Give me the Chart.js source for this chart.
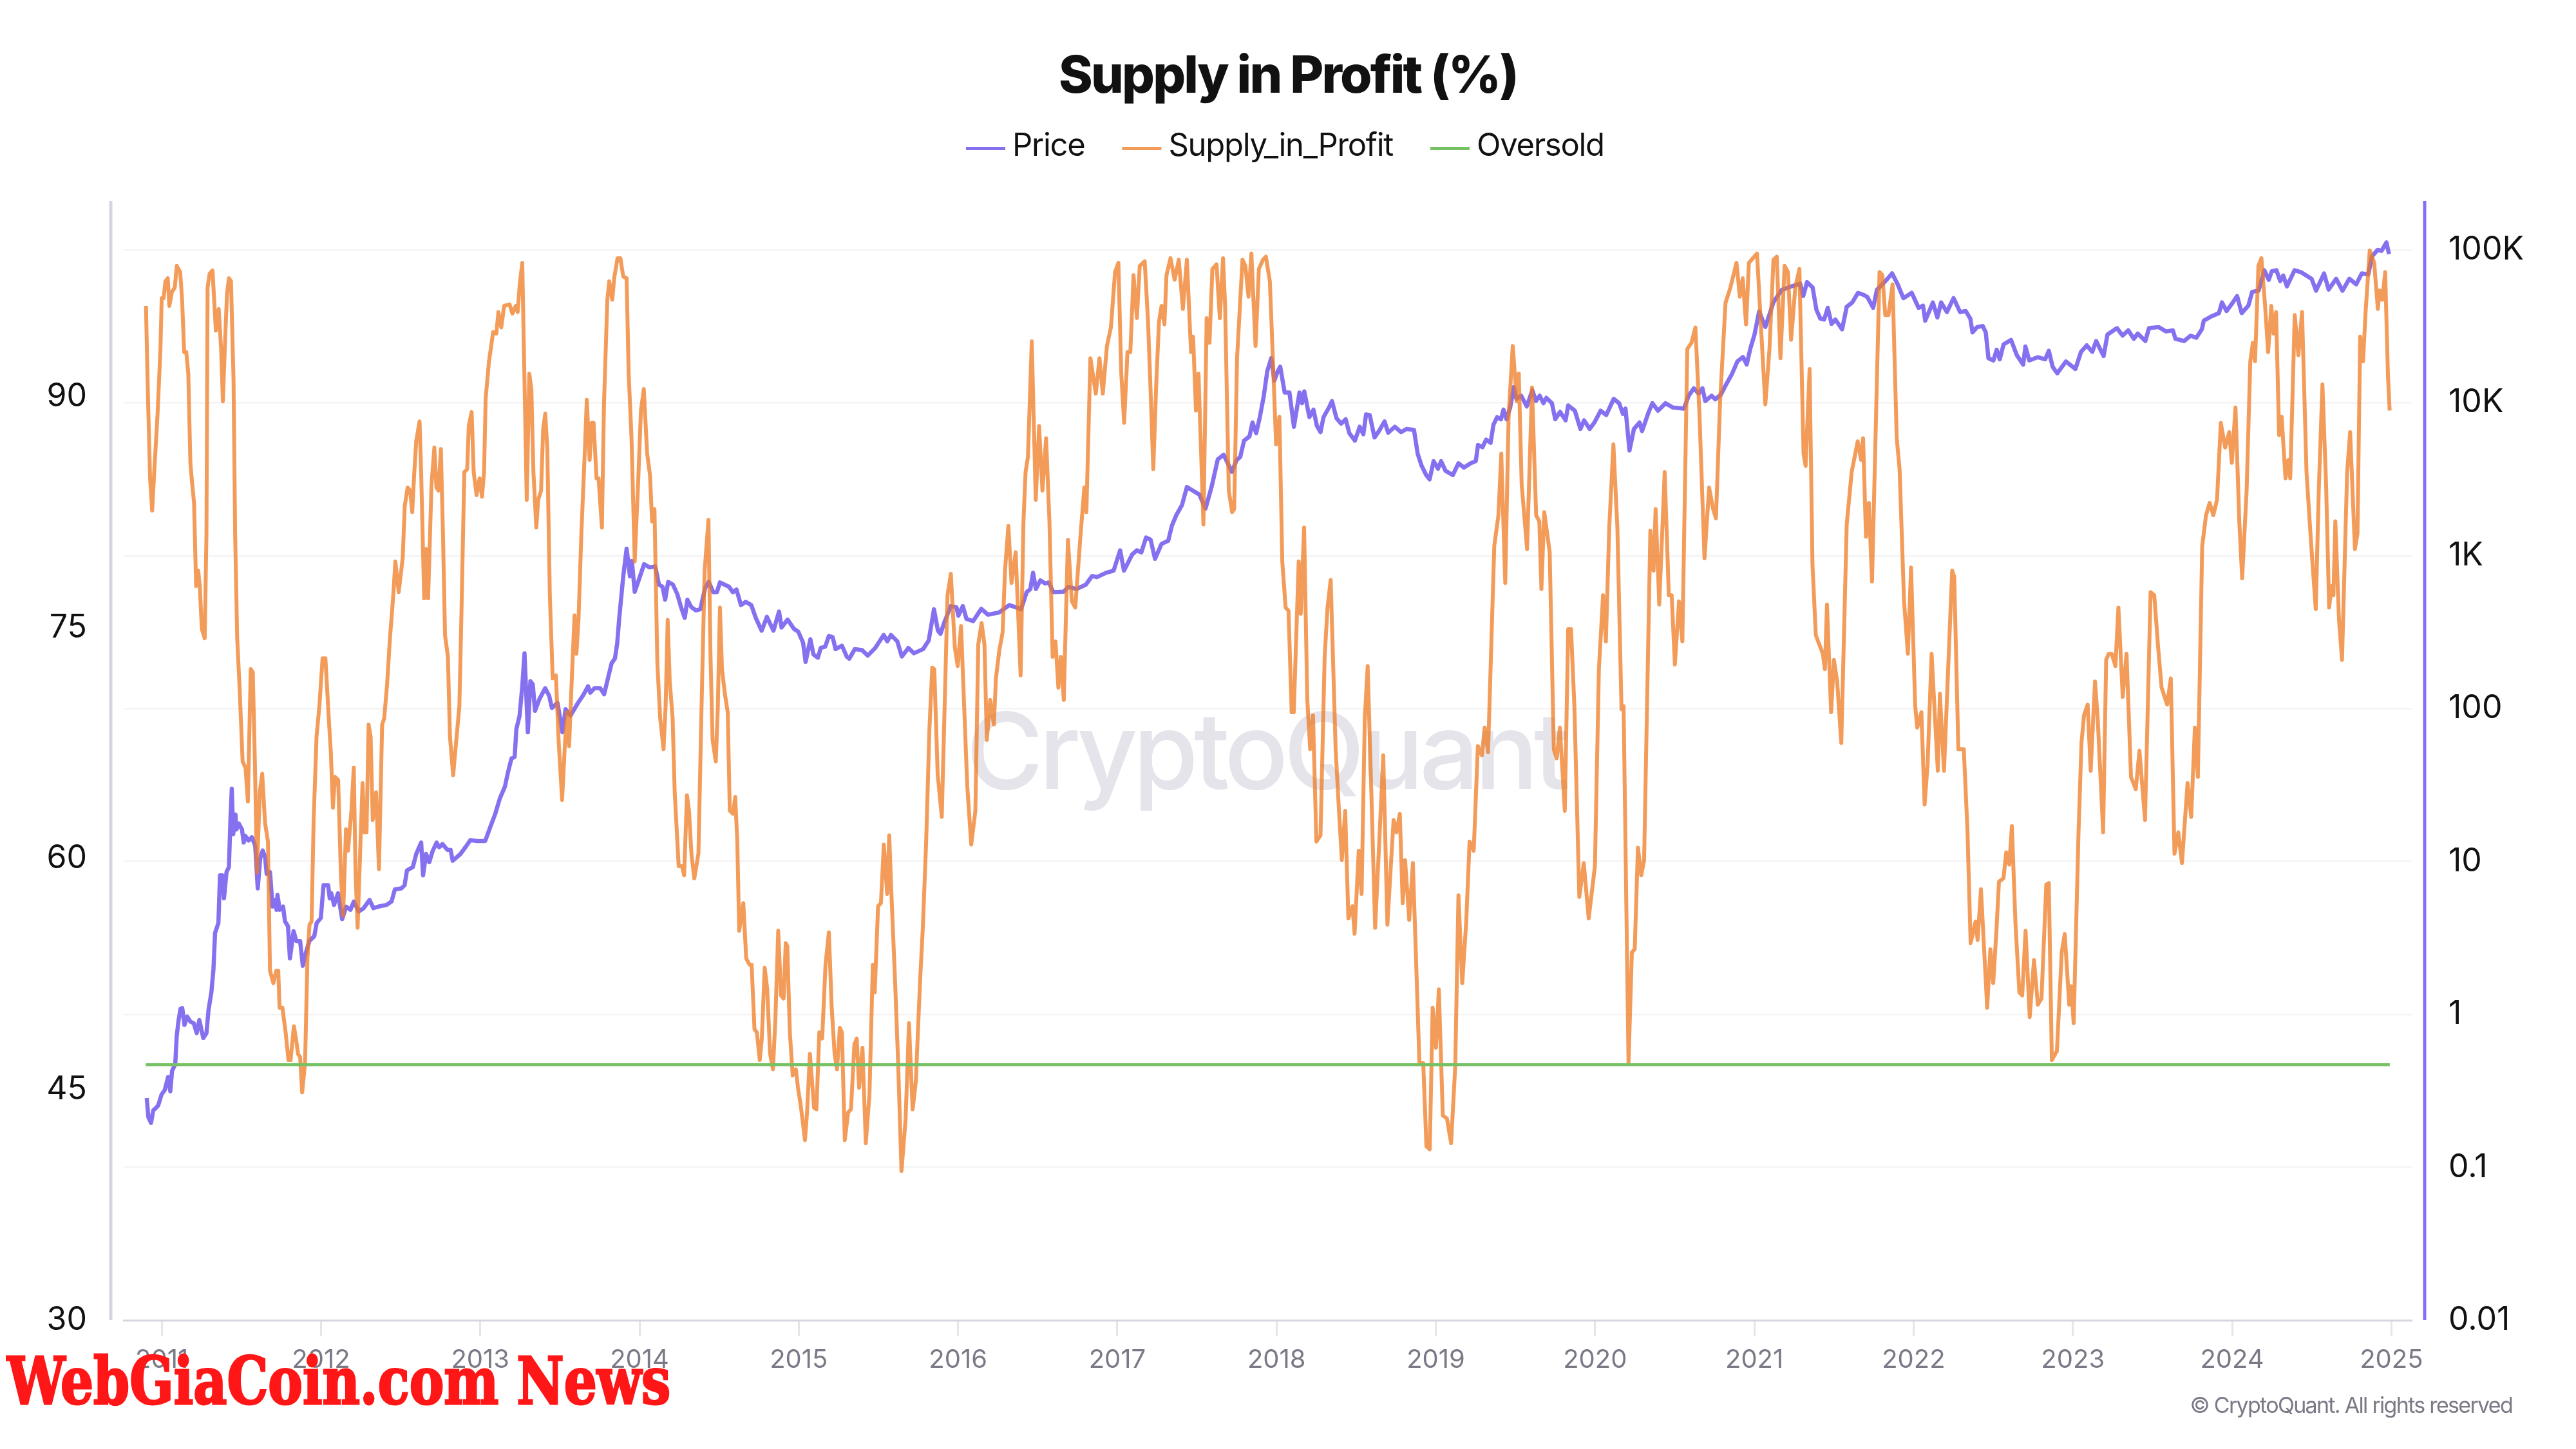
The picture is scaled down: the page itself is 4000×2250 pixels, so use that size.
<!DOCTYPE html>
<html>
<head>
<meta charset="utf-8">
<title>Supply in Profit (%)</title>
<script src="https://cdn.jsdelivr.net/npm/chart.js@4/dist/chart.umd.min.js"></script>
<style>
  html, body { margin: 0; padding: 0; background: #fff; }
  canvas { display: block; }
</style>
</head>
<body>
<canvas id="chart" width="4000" height="2250"></canvas>
<script>
// tick labels
const yearTicks = [2011, 2012, 2013, 2014, 2015, 2016, 2017, 2018, 2019, 2020, 2021, 2022, 2023, 2024, 2025];
const percentTicks = [30, 45, 60, 75, 90];
const priceTicks = [0.01, 0.1, 1, 10, 100, 1000, 10000, 100000];
const priceTickLabels = ['0.01', '0.1', '1', '10', '100', '1K', '10K', '100K'];

// series: [decimal year, value]
const oversoldLine = [[2010.90, 46.6], [2024.99, 46.6]];

const pricePoints = [
  [2010.906,0.284],[2010.916,0.213],[2010.933,0.195],[2010.947,0.236],[2010.958,0.241],[2010.978,0.254],[2010.999,0.299],
  [2011.019,0.320],[2011.040,0.390],[2011.054,0.314],[2011.065,0.427],[2011.085,0.471],[2011.094,0.718],[2011.106,0.918],[2011.118,1.09],[2011.129,1.10],[2011.143,0.853],[2011.160,0.966],[2011.180,0.897],[2011.201,0.875],[2011.220,0.754],[2011.236,0.918],[2011.261,0.700],[2011.281,0.754],[2011.294,1.07],[2011.312,1.40],[2011.325,1.98],[2011.335,3.41],[2011.356,3.96],[2011.366,8.12],[2011.380,8.12],[2011.391,5.74],[2011.407,8.53],[2011.422,9.19],[2011.432,19.3],[2011.440,29.9],[2011.449,15.1],[2011.463,20.3],[2011.469,16.2],[2011.484,17.7],[2011.504,16.2],[2011.515,13.3],[2011.525,14.7],[2011.545,13.7],[2011.566,14.4],[2011.587,12.7],[2011.603,6.67],[2011.618,10.4],[2011.634,11.8],[2011.649,10.7],[2011.659,8.32],[2011.680,8.53],[2011.696,5.07],[2011.711,5.6],[2011.721,4.83],[2011.727,6.04],[2011.741,4.83],[2011.762,5.07],[2011.774,4.06],[2011.793,3.77],[2011.805,2.32],[2011.828,3.50],[2011.845,3.02],[2011.869,3.02],[2011.886,2.08],[2011.906,2.54],[2011.927,3.02],[2011.958,3.25],[2011.973,3.96],[2011.999,4.27],
  [2012.016,7.0],[2012.045,7.0],[2012.055,5.74],[2012.065,6.19],[2012.082,5.20],[2012.107,6.19],[2012.133,4.2],[2012.158,5.07],[2012.185,4.83],[2012.206,5.47],[2012.237,4.71],[2012.268,4.95],[2012.305,5.6],[2012.329,4.95],[2012.360,5.07],[2012.412,5.2],[2012.443,5.47],[2012.464,6.57],[2012.505,6.67],[2012.525,7.0],[2012.540,8.75],[2012.577,9.19],[2012.598,11.2],[2012.629,13.3],[2012.641,8.12],[2012.660,11.2],[2012.680,9.9],[2012.701,11.7],[2012.726,13.3],[2012.742,12.4],[2012.763,13.0],[2012.794,11.9],[2012.814,11.9],[2012.827,10.1],[2012.876,11.2],[2012.907,12.4],[2012.938,13.8],[2012.979,13.6],
  [2013.031,13.6],[2013.062,16.7],[2013.093,20.3],[2013.124,26.0],[2013.155,30.9],[2013.175,38.6],[2013.196,47.1],[2013.216,48.3],[2013.227,73.6],[2013.247,89.7],[2013.264,140],[2013.278,230],[2013.299,70],[2013.315,151],[2013.330,144],[2013.344,96.6],[2013.371,115],[2013.408,136],[2013.433,121],[2013.450,101],[2013.485,109],[2013.516,70],[2013.536,99],[2013.567,90],[2013.609,107],[2013.650,124],[2013.677,140],[2013.691,127],[2013.718,136],[2013.753,136],[2013.778,124],[2013.805,163],[2013.825,198],[2013.846,213],[2013.860,267],[2013.872,383],[2013.898,733],[2013.919,1112],[2013.940,733],[2013.952,923],[2013.970,581],
  [2014.029,879],[2014.064,838],[2014.099,851],[2014.122,647],[2014.145,625],[2014.161,515],[2014.180,674],[2014.210,647],[2014.238,558],[2014.261,460],[2014.284,392],[2014.301,515],[2014.326,460],[2014.354,439],[2014.382,446],[2014.412,615],[2014.435,674],[2014.463,577],[2014.486,577],[2014.505,668],[2014.563,625],[2014.586,577],[2014.609,600],[2014.637,475],[2014.667,499],[2014.702,475],[2014.730,392],[2014.767,323],[2014.800,398],[2014.841,323],[2014.876,431],[2014.892,339],[2014.930,382],[2014.969,333],[2014.997,318],
  [2015.027,270],[2015.043,202],[2015.073,284],[2015.092,226],[2015.120,215],[2015.138,249],[2015.166,254],[2015.189,298],[2015.213,293],[2015.231,245],[2015.271,258],[2015.301,219],[2015.317,212],[2015.352,245],[2015.398,241],[2015.433,222],[2015.480,249],[2015.533,303],[2015.556,275],[2015.579,303],[2015.619,275],[2015.647,219],[2015.688,249],[2015.723,230],[2015.781,245],[2015.816,279],[2015.849,446],[2015.874,323],[2015.890,308],[2015.914,367],[2015.955,468],[2015.990,460],
  [2016.002,405],[2016.030,468],[2016.053,386],[2016.095,373],[2016.146,449],[2016.188,411],[2016.257,425],[2016.322,475],[2016.362,460],[2016.396,446],[2016.431,577],[2016.454,605],[2016.471,773],[2016.489,605],[2016.517,690],[2016.547,658],[2016.570,668],[2016.598,577],[2016.663,581],[2016.693,625],[2016.744,605],[2016.803,647],[2016.842,736],[2016.872,724],[2016.930,773],[2016.977,798],
  [2017.018,1084],[2017.042,798],[2017.093,1016],[2017.123,1084],[2017.151,1050],[2017.181,1315],[2017.209,1274],[2017.237,953],[2017.278,1194],[2017.320,1254],[2017.343,1570],[2017.371,1848],[2017.406,2138],[2017.437,2812],[2017.515,2512],[2017.554,2032],[2017.592,2812],[2017.631,4266],[2017.668,4570],[2017.703,3828],[2017.719,3532],[2017.749,4217],[2017.772,4426],[2017.796,5649],[2017.830,6026],[2017.849,7431],[2017.872,6324],[2017.895,8054],[2017.919,10940],[2017.942,16140],[2017.967,19590],[2017.986,13950],
  [2018.005,15880],[2018.023,17220],[2018.051,11670],[2018.081,11670],[2018.109,6966],[2018.144,11670],[2018.160,9935],[2018.174,11870],[2018.206,8054],[2018.232,9016],[2018.253,7079],[2018.276,6427],[2018.295,8054],[2018.329,9311],[2018.348,10260],[2018.376,7932],[2018.406,7309],[2018.434,7798],[2018.457,6324],[2018.492,5649],[2018.522,6966],[2018.545,6223],[2018.562,8395],[2018.585,8318],[2018.615,5929],[2018.643,6531],[2018.678,7551],[2018.701,6371],[2018.743,6966],[2018.782,6427],[2018.817,6745],[2018.863,6637],[2018.886,4645],[2018.910,3890],[2018.940,3365],[2018.961,3155],[2018.986,4150],
  [2019.014,3707],[2019.033,4150],[2019.061,3589],[2019.107,3365],[2019.142,4018],[2019.177,3767],[2019.218,4018],[2019.251,4150],[2019.265,5296],[2019.293,5120],[2019.316,5741],[2019.344,5468],[2019.362,7194],[2019.385,8054],[2019.409,7798],[2019.425,9016],[2019.444,7798],[2019.467,9311],[2019.490,12660],[2019.506,10600],[2019.536,11120],[2019.571,9467],[2019.606,12060],[2019.629,10260],[2019.652,11120],[2019.676,9935],[2019.694,10770],[2019.729,9935],[2019.750,7798],[2019.780,8730],[2019.815,7674],[2019.831,9616],[2019.873,8872],[2019.908,6745],[2019.931,7674],[2019.966,6745],[2019.996,7431],
  [2020.035,8872],[2020.070,8318],[2020.117,10600],[2020.151,9935],[2020.175,8451],[2020.191,9162],[2020.216,4875],[2020.244,6745],[2020.279,7431],[2020.295,6531],[2020.337,8730],[2020.360,9935],[2020.395,8872],[2020.442,9935],[2020.488,9311],[2020.558,9162],[2020.588,11120],[2020.620,12450],[2020.650,11490],[2020.674,12450],[2020.692,10260],[2020.732,11120],[2020.755,10530],[2020.790,11310],[2020.825,13290],[2020.859,15380],[2020.894,18670],[2020.929,19900],[2020.952,17770],[2020.975,22650],
  [2021.001,27930],[2021.030,39550],[2021.069,31330],[2021.120,45500],[2021.172,54700],[2021.224,57280],[2021.288,60000],[2021.307,49890],[2021.331,61510],[2021.366,56750],[2021.390,40460],[2021.414,35560],[2021.438,35000],[2021.461,41780],[2021.485,32810],[2021.509,35000],[2021.551,30240],[2021.580,42460],[2021.615,45290],[2021.651,52360],[2021.687,50680],[2021.710,49090],[2021.746,41780],[2021.770,54950],[2021.817,61510],[2021.865,70150],[2021.900,59560],[2021.936,48340],[2021.988,52360],
  [2022.031,41780],[2022.059,43170],[2022.073,34430],[2022.121,45290],[2022.149,36170],[2022.173,45290],[2022.209,39170],[2022.251,48340],[2022.292,39170],[2022.327,39810],[2022.356,35560],[2022.370,28840],[2022.399,31260],[2022.434,31770],[2022.453,28840],[2022.470,19540],[2022.501,18920],[2022.522,22230],[2022.541,19230],[2022.565,24100],[2022.612,25760],[2022.648,20510],[2022.688,17750],[2022.702,23330],[2022.726,18920],[2022.778,19860],[2022.826,19230],[2022.849,21880],[2022.873,17180],[2022.902,15590],[2022.956,18620],
  [2023.016,16640],[2023.051,21520],[2023.087,23730],[2023.122,21520],[2023.146,25350],[2023.193,20200],[2023.217,27930],[2023.277,30760],[2023.312,27480],[2023.348,29760],[2023.383,26190],[2023.407,28380],[2023.455,25350],[2023.478,30760],[2023.538,31260],[2023.585,29290],[2023.628,29760],[2023.644,26190],[2023.699,25350],[2023.739,27480],[2023.775,26610],[2023.810,30240],[2023.822,34430],[2023.870,36730],[2023.917,38550],[2023.936,45290],[2023.965,39810],
  [2024.000,44570],[2024.031,49890],[2024.060,38550],[2024.102,43170],[2024.126,53170],[2024.166,54080],[2024.202,73590],[2024.230,63680],[2024.249,72410],[2024.278,73590],[2024.302,62520],[2024.321,67920],[2024.344,57670],[2024.392,73590],[2024.435,71280],[2024.499,64680],[2024.527,54080],[2024.577,70150],[2024.606,54950],[2024.653,64680],[2024.693,54080],[2024.736,64680],[2024.779,59560],[2024.814,70150],[2024.855,69050],[2024.878,90710],[2024.914,100000],[2024.938,98400],[2024.969,111900],[2024.985,93740]
];

const supplyPoints = [
  [2010.901,95.9],[2010.914,89.9],[2010.927,84.7],[2010.940,82.6],[2010.953,85.1],[2010.974,88.9],[2010.992,93.1],
  [2011.000,96.4],[2011.012,96.4],[2011.023,97.5],[2011.038,97.7],[2011.048,95.9],[2011.064,96.8],[2011.082,97.1],[2011.095,98.5],[2011.116,98.1],[2011.128,96.3],[2011.141,92.9],[2011.154,92.9],[2011.167,91.5],[2011.180,85.7],[2011.190,84.5],[2011.203,83.1],[2011.216,77.7],[2011.229,78.7],[2011.239,77.7],[2011.252,74.9],[2011.270,74.3],[2011.281,81.1],[2011.288,97.1],[2011.301,98.0],[2011.319,98.2],[2011.340,94.3],[2011.358,95.7],[2011.373,93.1],[2011.384,89.7],[2011.399,93.9],[2011.410,96.7],[2011.422,97.7],[2011.435,97.5],[2011.451,91.1],[2011.461,81.1],[2011.474,74.3],[2011.489,71.1],[2011.508,66.3],[2011.526,65.9],[2011.541,63.7],[2011.559,72.3],[2011.572,72.1],[2011.585,66.3],[2011.598,59.1],[2011.616,64.3],[2011.631,65.5],[2011.649,62.3],[2011.667,61.1],[2011.680,52.7],[2011.701,51.9],[2011.719,52.7],[2011.732,52.7],[2011.740,50.3],[2011.758,50.3],[2011.778,48.7],[2011.796,46.9],[2011.809,46.9],[2011.830,49.1],[2011.843,48.3],[2011.856,47.3],[2011.869,47.1],[2011.882,44.8],[2011.900,46.7],[2011.915,53.5],[2011.928,55.7],[2011.941,55.9],[2011.954,62.5],[2011.972,67.9],[2011.990,69.9],
  [2012.010,73.0],[2012.028,73.0],[2012.049,69.1],[2012.062,66.9],[2012.075,63.3],[2012.088,65.3],[2012.108,65.1],[2012.126,58.7],[2012.139,56.3],[2012.157,61.9],[2012.170,60.5],[2012.191,63.1],[2012.206,65.9],[2012.217,59.1],[2012.230,55.5],[2012.243,59.5],[2012.261,64.9],[2012.273,61.7],[2012.286,61.7],[2012.299,68.7],[2012.312,67.9],[2012.325,62.5],[2012.346,64.3],[2012.364,59.3],[2012.384,68.7],[2012.397,69.1],[2012.415,71.3],[2012.433,74.3],[2012.454,77.1],[2012.467,79.3],[2012.488,77.3],[2012.513,79.5],[2012.526,82.9],[2012.544,84.1],[2012.560,83.9],[2012.573,82.5],[2012.586,85.1],[2012.598,87.1],[2012.619,88.4],[2012.629,85.1],[2012.648,76.9],[2012.660,80.1],[2012.673,76.9],[2012.694,84.3],[2012.712,86.7],[2012.725,84.1],[2012.738,83.9],[2012.753,86.6],[2012.766,81.1],[2012.779,74.5],[2012.797,73.1],[2012.810,67.9],[2012.830,65.4],[2012.848,67.5],[2012.869,69.9],[2012.882,75.9],[2012.900,85.1],[2012.918,85.3],[2012.928,88.1],[2012.946,89.0],[2012.959,85.1],[2012.977,83.6],[2012.996,84.7],
  [2013.011,83.5],[2013.024,85.1],[2013.034,89.9],[2013.055,92.3],[2013.081,94.2],[2013.101,94.1],[2013.114,95.5],[2013.132,94.5],[2013.150,95.9],[2013.184,96.0],[2013.202,95.4],[2013.223,95.9],[2013.235,95.5],[2013.248,97.3],[2013.264,98.7],[2013.274,93.1],[2013.292,83.3],[2013.308,91.5],[2013.321,90.5],[2013.334,85.1],[2013.352,81.5],[2013.364,83.3],[2013.382,83.9],[2013.395,87.9],[2013.408,88.9],[2013.421,86.7],[2013.437,77.1],[2013.455,71.7],[2013.475,71.9],[2013.493,67.5],[2013.514,63.8],[2013.532,67.5],[2013.545,69.5],[2013.558,67.3],[2013.571,70.7],[2013.592,75.8],[2013.604,73.3],[2013.617,75.5],[2013.635,81.1],[2013.656,86.3],[2013.669,89.8],[2013.687,85.9],[2013.700,88.3],[2013.712,88.3],[2013.730,84.7],[2013.743,84.7],[2013.764,81.5],[2013.777,89.5],[2013.798,96.3],[2013.810,97.5],[2013.829,96.3],[2013.841,97.7],[2013.862,99.0],[2013.880,99.0],[2013.898,97.8],[2013.919,97.7],[2013.932,91.5],[2013.950,87.3],[2013.970,79.3],[2013.991,84.3],
  [2014.009,89.1],[2014.027,90.5],[2014.048,86.3],[2014.066,84.9],[2014.079,81.9],[2014.094,82.7],[2014.112,72.7],[2014.130,69.1],[2014.151,67.1],[2014.164,69.9],[2014.177,75.5],[2014.190,71.5],[2014.208,69.1],[2014.221,64.3],[2014.246,59.5],[2014.267,59.5],[2014.280,58.9],[2014.298,64.1],[2014.311,63.1],[2014.326,60.3],[2014.344,58.7],[2014.370,60.3],[2014.388,69.1],[2014.409,78.7],[2014.433,82.0],[2014.446,73.1],[2014.459,67.7],[2014.479,66.3],[2014.492,69.9],[2014.505,76.3],[2014.518,72.3],[2014.536,70.7],[2014.554,69.5],[2014.567,63.1],[2014.588,62.9],[2014.601,64.0],[2014.614,61.1],[2014.626,55.3],[2014.652,57.1],[2014.670,53.5],[2014.691,53.1],[2014.704,53.1],[2014.722,48.9],[2014.737,48.7],[2014.755,46.9],[2014.768,48.3],[2014.786,52.9],[2014.802,51.5],[2014.820,47.3],[2014.838,46.3],[2014.853,49.5],[2014.871,55.3],[2014.889,51.1],[2014.905,50.9],[2014.918,54.5],[2014.928,54.3],[2014.944,48.7],[2014.962,45.9],[2014.982,46.3],[2014.995,45.1],
  [2015.013,43.9],[2015.039,41.7],[2015.052,43.5],[2015.070,47.3],[2015.096,43.8],[2015.111,43.7],[2015.129,48.7],[2015.147,48.3],[2015.168,53.1],[2015.189,55.2],[2015.207,50.3],[2015.225,47.3],[2015.240,46.3],[2015.258,49.0],[2015.271,48.7],[2015.289,41.7],[2015.310,43.5],[2015.328,43.7],[2015.349,47.9],[2015.364,48.3],[2015.379,45.1],[2015.400,47.7],[2015.421,41.5],[2015.444,44.7],[2015.465,53.1],[2015.477,51.3],[2015.498,56.9],[2015.516,57.1],[2015.534,60.9],[2015.555,57.7],[2015.568,61.5],[2015.581,57.9],[2015.606,51.7],[2015.624,46.7],[2015.645,39.7],[2015.671,43.1],[2015.692,49.3],[2015.715,43.7],[2015.735,45.5],[2015.761,51.9],[2015.779,55.5],[2015.800,61.1],[2015.820,68.3],[2015.838,72.4],[2015.851,72.3],[2015.872,65.5],[2015.898,62.7],[2015.916,69.9],[2015.934,77.1],[2015.955,78.5],[2015.980,73.7],[2015.998,72.5],
  [2016.019,75.1],[2016.037,70.3],[2016.058,64.7],[2016.083,60.9],[2016.109,63.1],[2016.127,73.9],[2016.148,75.3],[2016.166,73.9],[2016.181,67.7],[2016.202,70.3],[2016.225,68.7],[2016.238,71.7],[2016.259,73.5],[2016.280,74.7],[2016.295,78.7],[2016.316,81.6],[2016.336,77.9],[2016.362,79.9],[2016.393,71.9],[2016.411,81.9],[2016.424,85.1],[2016.439,86.1],[2016.463,93.6],[2016.488,83.3],[2016.509,88.1],[2016.530,83.9],[2016.553,87.3],[2016.574,81.9],[2016.594,73.1],[2016.612,74.1],[2016.630,71.1],[2016.646,73.1],[2016.664,70.3],[2016.690,80.7],[2016.715,76.7],[2016.736,76.3],[2016.767,80.7],[2016.793,84.1],[2016.806,82.5],[2016.831,92.5],[2016.865,90.2],[2016.888,92.5],[2016.909,90.2],[2016.935,93.3],[2016.960,94.5],[2016.986,98.1],
  [2017.007,98.7],[2017.025,91.5],[2017.043,88.3],[2017.064,92.9],[2017.082,92.9],[2017.102,97.9],[2017.123,95.1],[2017.141,98.5],[2017.172,98.8],[2017.193,94.9],[2017.208,90.7],[2017.226,85.3],[2017.244,90.7],[2017.262,94.9],[2017.278,95.9],[2017.296,94.7],[2017.309,97.9],[2017.334,99.0],[2017.360,97.6],[2017.386,98.9],[2017.412,95.7],[2017.437,98.9],[2017.463,92.9],[2017.476,93.9],[2017.494,89.1],[2017.510,91.5],[2017.541,81.7],[2017.561,95.1],[2017.579,93.5],[2017.597,98.3],[2017.623,98.6],[2017.644,95.1],[2017.664,99.0],[2017.677,95.9],[2017.700,83.9],[2017.721,82.5],[2017.734,82.7],[2017.752,92.5],[2017.786,98.9],[2017.804,98.5],[2017.824,96.5],[2017.842,99.3],[2017.868,93.3],[2017.889,98.3],[2017.915,98.9],[2017.933,99.1],[2017.958,97.5],[2017.979,91.9],[2017.997,86.9],
  [2018.018,88.7],[2018.036,79.3],[2018.057,76.3],[2018.075,76.1],[2018.095,69.5],[2018.108,69.5],[2018.139,79.3],[2018.152,75.9],[2018.173,81.5],[2018.193,70.3],[2018.211,67.1],[2018.229,69.3],[2018.250,61.1],[2018.276,61.5],[2018.302,73.1],[2018.320,76.3],[2018.340,78.1],[2018.371,67.1],[2018.392,63.1],[2018.410,59.9],[2018.431,63.1],[2018.451,56.1],[2018.477,56.9],[2018.490,55.1],[2018.516,60.5],[2018.534,57.7],[2018.554,69.1],[2018.572,72.5],[2018.593,65.1],[2018.619,55.5],[2018.645,61.1],[2018.670,66.7],[2018.696,55.7],[2018.722,60.3],[2018.735,62.5],[2018.753,61.7],[2018.774,62.9],[2018.792,57.1],[2018.807,59.9],[2018.833,56.0],[2018.856,59.7],[2018.877,53.1],[2018.897,46.7],[2018.921,46.7],[2018.941,41.3],[2018.962,41.1],[2018.980,50.3],
  [2019.001,47.7],[2019.019,51.5],[2019.044,43.3],[2019.070,43.1],[2019.096,41.5],[2019.122,46.5],[2019.142,57.6],[2019.166,51.9],[2019.191,55.9],[2019.212,61.1],[2019.238,60.5],[2019.264,67.3],[2019.289,66.7],[2019.307,68.5],[2019.328,66.9],[2019.367,80.3],[2019.393,82.3],[2019.411,86.3],[2019.436,77.9],[2019.457,88.7],[2019.483,93.3],[2019.509,89.7],[2019.521,91.5],[2019.539,84.3],[2019.573,80.1],[2019.604,90.6],[2019.630,82.3],[2019.650,81.9],[2019.663,77.5],[2019.681,82.5],[2019.715,79.9],[2019.741,67.1],[2019.759,66.5],[2019.779,68.5],[2019.810,63.1],[2019.831,74.9],[2019.849,74.9],[2019.870,69.9],[2019.901,57.5],[2019.929,59.7],[2019.960,56.1],[2019.999,59.5],
  [2020.024,72.3],[2020.050,77.1],[2020.068,74.1],[2020.089,81.5],[2020.115,86.9],[2020.140,81.5],[2020.166,69.7],[2020.179,69.9],[2020.210,46.7],[2020.231,53.9],[2020.249,54.1],[2020.269,60.7],[2020.290,58.9],[2020.308,59.9],[2020.347,81.3],[2020.367,78.7],[2020.380,82.7],[2020.403,76.5],[2020.437,85.1],[2020.463,77.1],[2020.481,77.1],[2020.501,72.6],[2020.527,76.7],[2020.548,74.1],[2020.579,93.1],[2020.605,93.5],[2020.630,94.5],[2020.656,88.7],[2020.687,79.5],[2020.716,84.1],[2020.741,82.7],[2020.759,82.1],[2020.785,89.7],[2020.819,96.1],[2020.850,97.1],[2020.888,98.7],[2020.909,96.5],[2020.927,97.7],[2020.948,94.7],[2020.966,98.7],
  [2021.017,99.3],[2021.043,94.3],[2021.069,89.5],[2021.095,93.1],[2021.120,98.9],[2021.141,99.1],[2021.164,92.5],[2021.190,98.5],[2021.211,98.1],[2021.231,93.7],[2021.257,97.1],[2021.283,98.3],[2021.309,86.3],[2021.322,85.5],[2021.347,91.8],[2021.365,79.1],[2021.386,74.5],[2021.430,73.3],[2021.443,72.3],[2021.456,76.5],[2021.482,69.5],[2021.500,72.9],[2021.520,71.5],[2021.546,67.5],[2021.580,81.7],[2021.611,85.1],[2021.649,87.1],[2021.670,85.9],[2021.683,87.3],[2021.701,80.9],[2021.719,83.1],[2021.739,78.0],[2021.765,89.1],[2021.786,98.1],[2021.804,97.9],[2021.822,95.3],[2021.842,95.3],[2021.868,97.3],[2021.894,87.3],[2021.912,85.3],[2021.940,76.7],[2021.964,73.3],[2021.984,78.9],
  [2022.010,69.9],[2022.023,68.5],[2022.049,69.5],[2022.069,63.5],[2022.088,66.1],[2022.113,73.3],[2022.152,65.7],[2022.165,70.7],[2022.191,65.7],[2022.242,78.7],[2022.255,78.3],[2022.281,67.1],[2022.315,67.1],[2022.338,61.9],[2022.358,54.5],[2022.389,55.9],[2022.402,54.7],[2022.423,58.0],[2022.462,50.3],[2022.482,54.1],[2022.500,51.9],[2022.521,55.5],[2022.536,58.5],[2022.564,58.7],[2022.582,60.4],[2022.601,59.6],[2022.617,62.1],[2022.640,55.7],[2022.664,51.3],[2022.682,51.1],[2022.703,55.3],[2022.729,49.7],[2022.756,53.4],[2022.780,50.5],[2022.803,50.9],[2022.833,58.3],[2022.849,58.4],[2022.868,46.9],[2022.900,47.5],[2022.930,53.9],[2022.949,55.1],[2022.977,50.5],[2022.989,51.7],
  [2023.005,49.3],[2023.035,61.5],[2023.054,67.5],[2023.070,69.3],[2023.093,70.0],[2023.112,65.7],[2023.139,71.5],[2023.156,69.1],[2023.190,61.7],[2023.209,72.9],[2023.225,73.3],[2023.244,73.3],[2023.267,72.5],[2023.286,76.3],[2023.313,70.5],[2023.337,73.3],[2023.365,65.3],[2023.395,64.5],[2023.418,67.0],[2023.453,62.5],[2023.488,77.3],[2023.511,77.1],[2023.534,73.9],[2023.557,71.1],[2023.592,70.0],[2023.615,71.7],[2023.638,60.3],[2023.662,61.7],[2023.685,59.7],[2023.720,64.9],[2023.743,62.7],[2023.766,68.5],[2023.785,65.3],[2023.812,80.3],[2023.836,82.3],[2023.859,83.1],[2023.882,82.3],[2023.905,83.3],[2023.929,88.3],[2023.956,86.7],[2023.982,87.7],[2023.998,85.7],
  [2024.021,89.3],[2024.045,81.9],[2024.063,78.2],[2024.091,83.9],[2024.114,92.3],[2024.130,93.5],[2024.144,92.3],[2024.165,98.5],[2024.184,99.0],[2024.207,95.9],[2024.226,92.9],[2024.246,95.9],[2024.260,94.1],[2024.276,95.5],[2024.295,87.5],[2024.311,88.7],[2024.335,84.7],[2024.353,85.9],[2024.365,84.7],[2024.393,95.3],[2024.416,92.7],[2024.439,95.5],[2024.467,85.1],[2024.497,80.3],[2024.525,76.2],[2024.544,83.9],[2024.567,90.8],[2024.590,84.3],[2024.609,76.3],[2024.625,77.7],[2024.636,77.1],[2024.648,81.9],[2024.671,75.5],[2024.690,72.9],[2024.722,85.1],[2024.741,87.7],[2024.771,80.1],[2024.787,81.1],[2024.804,93.9],[2024.822,92.3],[2024.838,95.5],[2024.864,99.5],[2024.892,98.7],[2024.915,95.7],[2024.926,96.9],[2024.943,96.3],[2024.961,98.1],[2024.978,91.5],[2024.989,89.1]
];

const toXY = (pts) => pts.map(([x, y]) => ({ x, y }));
const setTicks = (values) => (scale) => { scale.ticks = values.map((value) => ({ value })); };

// watermark under the lines
const watermark = {
  id: 'watermark',
  beforeDatasetsDraw(chart) {
    const { ctx } = chart;
    ctx.save();
    ctx.font = '500 164px Inter';
    ctx.letterSpacing = '-7px';
    ctx.fillStyle = '#e4e4ea';
    ctx.textAlign = 'left';
    ctx.textBaseline = 'alphabetic';
    ctx.fillText('CryptoQuant', 1500, 1225);
    ctx.restore();
  }
};

// reference title is set tighter than Inter's default
const tightTitle = {
  id: 'tightTitle',
  afterLayout(chart) {
    const block = chart.titleBlock;
    if (block.tightened) return;
    const draw = block.draw;
    block.draw = function () {
      chart.ctx.save();
      chart.ctx.letterSpacing = '-2.8px';
      draw.call(block);
      chart.ctx.restore();
    };
    block.tightened = true;
  }
};

// the two y axis lines sit 20px outside the plot, the legend has a tighter gap than the built-in one
const decorations = {
  id: 'decorations',
  afterDraw(chart) {
    const { ctx, chartArea } = chart;
    ctx.save();
    ctx.lineWidth = 5;
    ctx.strokeStyle = '#d5d5df';
    ctx.beginPath();
    ctx.moveTo(chartArea.left - 20, chartArea.top);
    ctx.lineTo(chartArea.left - 20, chartArea.bottom);
    ctx.stroke();
    ctx.strokeStyle = '#8571f0';
    ctx.beginPath();
    ctx.moveTo(chartArea.right + 20, chartArea.top);
    ctx.lineTo(chartArea.right + 20, chartArea.bottom);
    ctx.stroke();

    ctx.font = '400 49px Inter';
    ctx.letterSpacing = '-1.3px';
    ctx.textBaseline = 'alphabetic';
    ctx.textAlign = 'left';
    let x = 1500;
    chart.data.datasets.forEach((ds) => {
      ctx.fillStyle = ds.borderColor;
      ctx.fillRect(x, 228, 61, 5);
      ctx.fillStyle = '#111';
      ctx.fillText(ds.label, x + 72, 242);
      x += 72 + ctx.measureText(ds.label).width + 58;
    });

    ctx.font = '400 34px Inter';
    ctx.letterSpacing = '-1.7px';
    ctx.fillStyle = '#7a7a87';
    ctx.textAlign = 'right';
    ctx.fillText('© CryptoQuant. All rights reserved', 3901, 2194);

    ctx.letterSpacing = '0px';
    ctx.font = 'bold 101px "DejaVu Serif Condensed", "DejaVu Serif"';
    ctx.fillStyle = '#ff1616';
    ctx.strokeStyle = '#ff1616';
    ctx.lineWidth = 3;
    ctx.textAlign = 'left';
    ctx.translate(11, 2180);
    ctx.scale(0.884, 1);
    ctx.fillText('WebGiaCoin.com News', 0, 0);
    ctx.strokeText('WebGiaCoin.com News', 0, 0);
    ctx.restore();
  }
};

// eslint-disable-next-line no-unused-vars
const supplyChart = new Chart(document.getElementById('chart'), {
  type: 'line',
  data: {
    datasets: [{
      label: 'Price',
      data: toXY(pricePoints),
      yAxisID: 'yPrice',
      borderColor: '#8571f0',
      borderWidth: 6.5,
      order: 2
    }, {
      label: 'Supply_in_Profit',
      data: toXY(supplyPoints),
      yAxisID: 'yPercent',
      borderColor: 'rgba(239, 122, 33, 0.75)',
      borderWidth: 6,
      order: 1
    }, {
      label: 'Oversold',
      data: toXY(oversoldLine),
      yAxisID: 'yPercent',
      borderColor: '#75c163',
      borderWidth: 4.5,
      order: 0
    }]
  },
  options: {
    responsive: false,
    animation: false,
    devicePixelRatio: 1,
    elements: { point: { radius: 0 }, line: { tension: 0, borderJoinStyle: 'round' } },
    plugins: {
      legend: { display: false },
      tooltip: { enabled: false },
      title: {
        display: true,
        text: 'Supply in Profit (%)',
        color: '#111',
        font: { family: 'Inter', size: 80, weight: '800' },
        padding: { top: 72, bottom: 144 }
      }
    },
    scales: {
      x: {
        type: 'linear',
        min: 2010.761,
        max: 2025.128,
        afterFit(scale) { scale.height = 200; },
        afterBuildTicks: setTicks(yearTicks),
        grid: { drawOnChartArea: false, tickColor: '#e5e5ea', tickWidth: 3, tickLength: 25 },
        border: { color: '#d5d5df', width: 3 },
        ticks: {
          autoSkip: false,
          maxRotation: 0,
          padding: 13,
          color: '#7a7a87',
          font: { family: 'Inter', size: 40 },
          callback: (value) => String(value)
        }
      },
      yPercent: {
        type: 'linear',
        position: 'left',
        min: 30,
        max: 102.72,
        afterFit(scale) { scale.width = 192; },
        afterBuildTicks: setTicks(percentTicks),
        grid: { display: false, drawTicks: false },
        border: { display: false },
        ticks: { padding: 57, color: '#111', font: { family: 'Inter', size: 50 } }
      },
      yPrice: {
        type: 'logarithmic',
        position: 'right',
        min: 0.01,
        max: 208930,
        afterFit(scale) { scale.width = 255; },
        afterBuildTicks: setTicks(priceTicks),
        grid: { color: '#f4f4f5', lineWidth: 2.5, drawTicks: false },
        border: { display: false },
        ticks: {
          autoSkip: false,
          padding: 57,
          color: '#111',
          font: { family: 'Inter', size: 50 },
          callback: (value, index) => priceTickLabels[index]
        }
      }
    }
  },
  plugins: [watermark, tightTitle, decorations]
});
</script>
</body>
</html>
